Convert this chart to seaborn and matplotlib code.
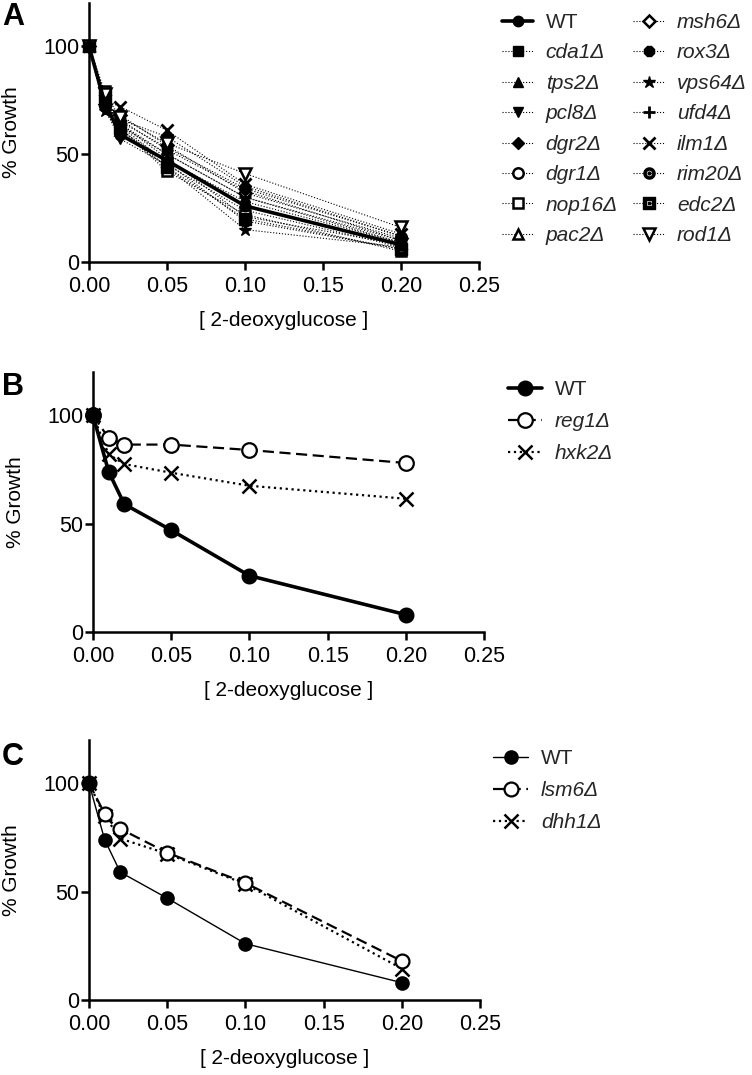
import numpy as np
import pandas as pd
import matplotlib
matplotlib.use("Agg")
import matplotlib.pyplot as plt
from matplotlib.path import Path
import seaborn as sns

# ---------------- data ----------------
conc = [0.0, 0.01, 0.02, 0.05, 0.10, 0.20]

wt = [100, 74, 59, 47, 26, 8]

# panel A mutants
cda1 = [100, 76, 66, 52, 33, 10]
tps2 = [100, 73, 63, 50, 30, 9]
pcl8 = [100, 71, 57, 45, 24, 7]
dgr2 = [100, 72, 66, 58, 35, 12]
dgr1 = [100, 74, 64, 48, 21, 8]
nop16 = [100, 79, 62, 42, 22, 5]
pac2 = [100, 75, 61, 47, 28, 9]
msh6 = [100, 73, 68, 54, 32, 11]
rox3 = [100, 72, 65, 53, 34, 12]
vps64 = [100, 70, 60, 44, 15, 7]
ufd4 = [100, 74, 64, 50, 30, 10]
ilm1 = [100, 75, 72, 61, 36, 13]
rim20 = [100, 76, 63, 46, 19, 6]
edc2 = [100, 77, 62, 44, 20, 6]
rod1 = [100, 78, 67, 55, 41, 16]

# panel B
reg1 = [100, 89.5, 86.5, 86.5, 84, 78]
hxk2 = [100, 82, 77.5, 73.5, 67.5, 61.5]

# panel C
lsm6 = [100, 86, 79, 68, 54, 18]
dhh1 = [100, 85, 74.5, 67.5, 53.5, 14.5]

mutant_names = ["cda1Δ", "tps2Δ", "pcl8Δ", "dgr2Δ", "dgr1Δ", "nop16Δ", "pac2Δ",
                "msh6Δ", "rox3Δ", "vps64Δ", "ufd4Δ", "ilm1Δ", "rim20Δ", "edc2Δ", "rod1Δ"]
mutant_vals = [cda1, tps2, pcl8, dgr2, dgr1, nop16, pac2,
               msh6, rox3, vps64, ufd4, ilm1, rim20, edc2, rod1]

x_ticks = [0.00, 0.05, 0.10, 0.15, 0.20, 0.25]
y_ticks = [0, 50, 100]
xlabel = "[ 2-deoxyglucose ]"
ylabel = "% Growth"

# ---------------- style ----------------
sns.set_theme(style="ticks")
plt.rcParams["font.family"] = ["Liberation Sans", "DejaVu Sans"]
plt.rcParams["axes.linewidth"] = 1.8


def ring_path(kind):
    n = 40
    t = np.linspace(0, 2 * np.pi, n, endpoint=False)
    verts, codes = [], []

    def add(poly):
        verts.extend(list(poly) + [poly[0]])
        codes.extend([Path.MOVETO] + [Path.LINETO] * (len(poly) - 1) + [Path.CLOSEPOLY])

    if kind == "circle":
        outer = np.c_[np.cos(t), np.sin(t)]
        inner = np.c_[0.62 * np.cos(t[::-1]), 0.62 * np.sin(t[::-1])]
        dot = np.c_[0.25 * np.cos(t), 0.25 * np.sin(t)]
    else:
        outer = np.array([[-1, -1], [1, -1], [1, 1], [-1, 1]])
        inner = 0.62 * np.array([[-1, -1], [-1, 1], [1, 1], [1, -1]])
        dot = 0.22 * np.array([[-1, -1], [1, -1], [1, 1], [-1, 1]])
    add(outer)
    add(inner)
    add(dot)
    return Path(np.array(verts, float), codes)


rim_marker = ring_path("circle")
edc_marker = ring_path("square")

# marker spec: (marker, filled?, size)
mutant_markers = [
    ("s", True, 7.5), ("^", True, 7.5), ("v", True, 7.5), ("D", True, 6.0),
    ("o", False, 7.5), ("s", False, 7.5), ("^", False, 7.5),
    ("D", False, 6.5), ("8", True, 7.5), ("*", True, 9), ("+", True, 8.5),
    ("x", True, 8.0), (rim_marker, True, 8.0), (edc_marker, True, 8.0), ("v", False, 8.0),
]

fig = plt.figure(figsize=(7.52, 10.75), dpi=100)
W, H = 752.0, 1075.0


def make_ax(left, top, right, bottom):
    return fig.add_axes([left / W, 1 - bottom / H, (right - left) / W, (bottom - top) / H])


def style_ax(ax, lab_y):
    ax.set_xlim(0, 0.25)
    ax.set_ylim(0, 120)
    ax.set_xticks(x_ticks)
    ax.set_xticklabels([f"{v:.2f}" for v in x_ticks])
    ax.set_yticks(y_ticks)
    ax.set_yticklabels([str(v) for v in y_ticks])
    sns.despine(ax=ax)
    ax.tick_params(axis="both", direction="out", length=6, width=1.8,
                   labelsize=15.5, color="black", labelcolor="black")
    ax.tick_params(axis="y", pad=1)
    ax.tick_params(axis="x", pad=4)
    for s in ("left", "bottom"):
        ax.spines[s].set_color("black")
        ax.spines[s].set_linewidth(1.8)
    ax.set_xlabel(xlabel, fontsize=15, color="black")
    ax.set_ylabel(ylabel, fontsize=15, color="black")
    ax.xaxis.set_label_coords(0.5, lab_y)
    ax.yaxis.set_label_coords(-0.175, 0.5)
    ax.set_facecolor("white")


def draw(ax, y, label, marker, ms, mfc, ls, lw, mew=1.0, z=2):
    df = pd.DataFrame({"x": conc, "y": y})
    sns.lineplot(data=df, x="x", y="y", ax=ax, color="black", marker=marker,
                 markersize=ms, markerfacecolor=mfc, markeredgecolor="black",
                 markeredgewidth=mew, linestyle=ls, linewidth=lw, label=label,
                 clip_on=False, zorder=z, legend=False)


# ---------------- panel A ----------------
axA = make_ax(89, 3, 479, 262)
draw(axA, wt, "WT", "o", 7.5, "black", "-", 2.6, z=5)
for name, vals, (mk, filled, ms) in zip(mutant_names, mutant_vals, mutant_markers):
    mew = 1.0 if filled else 1.8
    if mk in ("+", "x"):
        mew = 2.0
    draw(axA, vals, name, mk, ms, "black" if filled else "white", ":", 0.8, mew=mew, z=3)
style_ax(axA, -0.19)
hA, lA = axA.get_legend_handles_labels()
legA = fig.legend(hA, lA, loc="upper left", bbox_to_anchor=(502 / W, 1 - 13 / H),
                  ncol=2, frameon=False, borderpad=0, borderaxespad=0,
                  handlelength=1.5, handletextpad=0.6, columnspacing=0.73,
                  labelspacing=0.55, fontsize=15)

# ---------------- panel B ----------------
axB = make_ax(93, 372, 484, 632)
draw(axB, wt, "WT", "o", 10.5, "black", "-", 2.6, z=5)
draw(axB, reg1, "reg1Δ", "o", 10.5, "white", (0, (5, 2.5)), 1.6, mew=1.6, z=4)
draw(axB, hxk2, "hxk2Δ", "x", 10, "black", ":", 1.6, mew=1.8, z=3)
style_ax(axB, -0.19)
hB, lB = axB.get_legend_handles_labels()
legB = fig.legend(hB, lB, loc="upper left", bbox_to_anchor=(508 / W, 1 - 380 / H),
                  frameon=False, borderpad=0, borderaxespad=0,
                  handlelength=1.65, handletextpad=0.6, labelspacing=0.62, fontsize=15)

# ---------------- panel C ----------------
axC = make_ax(89, 740, 480, 1000)
draw(axC, wt, "WT", "o", 9.5, "black", "-", 1.0, z=5)
draw(axC, lsm6, "lsm6Δ", "o", 10, "white", (0, (5, 2.5)), 1.6, mew=1.6, z=4)
draw(axC, dhh1, "dhh1Δ", "x", 10, "black", ":", 1.6, mew=1.8, z=3)
style_ax(axC, -0.19)
hC, lC = axC.get_legend_handles_labels()
legC = fig.legend(hC, lC, loc="upper left", bbox_to_anchor=(493 / W, 1 - 749 / H),
                  frameon=False, borderpad=0, borderaxespad=0,
                  handlelength=1.7, handletextpad=0.6, labelspacing=0.62, fontsize=15)

for leg in (legA, legB, legC):
    for t in leg.get_texts():
        if t.get_text() != "WT":
            t.set_fontstyle("italic")

# panel letters
for letter, (px, py) in zip("ABC", [(2, 2), (2, 372), (2, 742)]):
    fig.text(px / W, 1 - py / H, letter, fontsize=22, fontweight="bold",
             ha="left", va="top", color="black")

fig.savefig("out.png", dpi=100, facecolor="white")
